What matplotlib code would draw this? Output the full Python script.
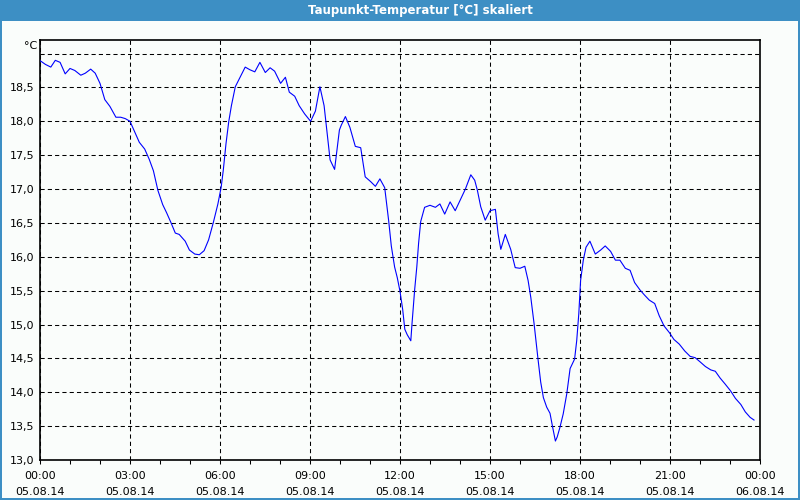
import matplotlib
matplotlib.use('Agg')
import matplotlib.pyplot as plt
from matplotlib.ticker import MultipleLocator, FixedLocator
from matplotlib.patches import Rectangle

# dew point readings, 05.08.14 (hours since midnight, °C)
hours = [0.02, 0.18, 0.36, 0.51, 0.67, 0.84, 1.0, 1.16, 1.36, 1.51, 1.69, 1.84,
         2.0, 2.16, 2.33, 2.53, 2.69, 2.84, 3.0, 3.16, 3.31, 3.49, 3.64, 3.78,
         3.93, 4.09, 4.22, 4.36, 4.51, 4.64, 4.78, 4.84, 4.98, 5.16, 5.31, 5.47,
         5.62, 5.78, 5.93, 6.04, 6.11, 6.2, 6.29, 6.38, 6.51, 6.67, 6.84, 7.0,
         7.16, 7.33, 7.51, 7.67, 7.82, 8.02, 8.18, 8.31, 8.49, 8.64, 8.82, 9.02,
         9.18, 9.33, 9.47, 9.67, 9.82, 9.98, 10.04, 10.18, 10.33, 10.51, 10.69,
         10.84, 11.02, 11.18, 11.33, 11.49, 11.62, 11.71, 11.82, 11.91, 12.0,
         12.09, 12.16, 12.24, 12.36, 12.4, 12.49, 12.56, 12.62, 12.69, 12.82,
         13.0, 13.18, 13.33, 13.49, 13.67, 13.84, 14.0, 14.18, 14.36, 14.49,
         14.58, 14.69, 14.84, 15.0, 15.18, 15.27, 15.36, 15.51, 15.69, 15.84,
         16.0, 16.16, 16.27, 16.36, 16.47, 16.6, 16.69, 16.78, 16.89, 17.0,
         17.09, 17.18, 17.24, 17.33, 17.44, 17.56, 17.67, 17.82, 17.89, 17.96,
         18.02, 18.11, 18.2, 18.33, 18.51, 18.69, 18.84, 19.02, 19.18, 19.33,
         19.51, 19.67, 19.82, 20.0, 20.16, 20.31, 20.49, 20.64, 20.8, 20.98,
         21.13, 21.31, 21.49, 21.67, 21.84, 22.0, 22.18, 22.36, 22.51, 22.67,
         22.84, 23.02, 23.18, 23.36, 23.51, 23.67, 23.8]
taupunkt = [18.89, 18.84, 18.80, 18.90, 18.87, 18.70, 18.78, 18.75, 18.68, 18.71,
            18.77, 18.71, 18.56, 18.32, 18.22, 18.06, 18.06, 18.04, 18.00, 17.84,
            17.69, 17.59, 17.44, 17.27, 16.98, 16.77, 16.65, 16.51, 16.35, 16.33,
            16.26, 16.23, 16.10, 16.04, 16.03, 16.09, 16.25, 16.51, 16.78, 17.03,
            17.28, 17.67, 17.99, 18.23, 18.51, 18.65, 18.80, 18.76, 18.73, 18.87,
            18.72, 18.79, 18.74, 18.56, 18.65, 18.43, 18.37, 18.23, 18.11, 18.00,
            18.15, 18.51, 18.23, 17.43, 17.29, 17.87, 17.94, 18.07, 17.91, 17.63,
            17.61, 17.18, 17.11, 17.04, 17.15, 17.02, 16.54, 16.16, 15.85, 15.69,
            15.49, 15.22, 14.93, 14.85, 14.76, 15.01, 15.52, 15.85, 16.20, 16.52,
            16.73, 16.76, 16.73, 16.78, 16.63, 16.81, 16.68, 16.83, 17.00, 17.21,
            17.13, 16.98, 16.74, 16.54, 16.68, 16.70, 16.34, 16.11, 16.33, 16.11,
            15.84, 15.83, 15.86, 15.65, 15.40, 15.01, 14.49, 14.15, 13.92, 13.78,
            13.69, 13.48, 13.28, 13.34, 13.48, 13.68, 13.98, 14.35, 14.49, 14.76,
            15.16, 15.65, 15.95, 16.14, 16.23, 16.04, 16.10, 16.16, 16.08, 15.95,
            15.95, 15.83, 15.80, 15.62, 15.51, 15.43, 15.36, 15.31, 15.13, 14.98,
            14.88, 14.78, 14.71, 14.61, 14.53, 14.51, 14.45, 14.38, 14.33, 14.31,
            14.21, 14.12, 14.02, 13.91, 13.82, 13.71, 13.63, 13.59]

tick_hours = [0, 3, 6, 9, 12, 15, 18, 21, 24]
tick_labels = ['00:00\n05.08.14', '03:00\n05.08.14', '06:00\n05.08.14',
               '09:00\n05.08.14', '12:00\n05.08.14', '15:00\n05.08.14',
               '18:00\n05.08.14', '21:00\n05.08.14', '00:00\n06.08.14']
y_ticks = [13.0, 13.5, 14.0, 14.5, 15.0, 15.5, 16.0, 16.5, 17.0, 17.5, 18.0, 18.5]

bg = '#fafdfb'
bar = '#3d8fc4'

fig = plt.figure(figsize=(8, 5), dpi=100, facecolor=bg)

# title bar and frame
fig.patches.append(Rectangle((0, 0.958), 1, 0.042, transform=fig.transFigure,
                             facecolor=bar, edgecolor='none', zorder=0))
for r in [(0, 0, 0.0025, 1), (0.9975, 0, 0.0025, 1), (0, 0, 1, 0.004)]:
    fig.patches.append(Rectangle(r[:2], r[2], r[3], transform=fig.transFigure,
                                 facecolor=bar, edgecolor='none', zorder=0))
fig.text(0.525, 0.979, 'Taupunkt-Temperatur [°C] skaliert', color='white',
         fontsize=8.5, fontweight='bold', ha='center', va='center')

ax = fig.add_axes([0.05, 0.08, 0.9, 0.84])
ax.set_facecolor(bg)
ax.plot(hours, taupunkt, color='#0000ff', lw=0.8, zorder=3)

ax.set_xlim(0, 24)
ax.set_ylim(13.0, 19.2)
ax.xaxis.set_major_locator(FixedLocator(tick_hours))
ax.xaxis.set_minor_locator(MultipleLocator(1))
ax.set_xticklabels(tick_labels, fontsize=8, linespacing=1.75)
ax.set_yticks(y_ticks + [19.0])
ax.set_yticklabels([f'{v:.1f}'.replace('.', ',') for v in y_ticks] + [''], fontsize=8)

ax.grid(True, which='major', color='black', lw=0.75, linestyle=(0, (4, 3)))
ax.tick_params(axis='y', length=0, pad=4)
ax.tick_params(axis='x', which='both', length=3, width=0.75, pad=5, direction='out')
for s in ax.spines.values():
    s.set_linewidth(1.2)
    s.set_color('black')

fig.text(0.03, 0.908, '°C', fontsize=8, ha='left', va='center')

fig.savefig('out.png', dpi=100, facecolor=bg)
